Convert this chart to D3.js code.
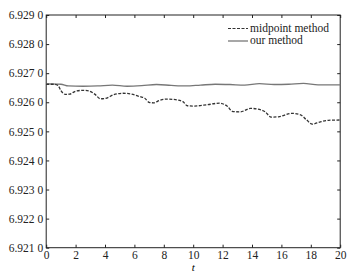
<!DOCTYPE html>
<html><head><meta charset="utf-8">
<script src="https://cdn.jsdelivr.net/npm/d3@7"></script>
<style>body{margin:0;background:#fff}svg{display:block}</style>
</head><body>
<script>
const xTicks = [0,2,4,6,8,10,12,14,16,18,20];
const yTicks = [6.921,6.922,6.923,6.924,6.925,6.926,6.927,6.928,6.929];
const seriesNames = ["midpoint method","our method"];
const midT = [0,0.5,0.8,1.0,1.3,1.6,2.0,2.5,2.9,3.3,3.7,4.0,4.6,5.2,5.8,6.4,6.7,7.0,7.3,7.7,8.2,8.8,9.3,9.6,10.0,10.9,11.8,12.3,12.7,13.2,13.9,14.6,14.9,15.3,15.8,16.7,17.3,17.7,18.1,18.6,19.2,20];
const midV = [6.92662,6.92662,6.92658,6.92640,6.92627,6.92628,6.92638,6.92641,6.92639,6.92628,6.92612,6.92613,6.92626,6.92631,6.92628,6.92619,6.92614,6.92600,6.92598,6.92606,6.92611,6.92609,6.92602,6.92588,6.92587,6.92591,6.92597,6.92587,6.92568,6.92567,6.92579,6.92574,6.92567,6.92549,6.92550,6.92562,6.92557,6.92540,6.92525,6.92532,6.92538,6.92539];
const ourT = [0,1,1.5,2.5,3.5,4.5,5.5,6.5,7.5,8.5,9.5,10.5,11.5,12.5,13.5,14.5,15.5,16.5,17.5,18.5,19.5,20];
const ourV = [6.92663,6.92662,6.92656,6.92655,6.92656,6.92659,6.92655,6.92657,6.92661,6.92658,6.92656,6.92659,6.92662,6.92661,6.92659,6.92664,6.92661,6.92662,6.92665,6.92660,6.92660,6.92660];

const W=361,H=277;
const m={l:46.2,r:20.8,t:15,b:29.3};
const svg=d3.select("body").append("svg").attr("width",W).attr("height",H);
const x=d3.scaleLinear().domain([0,20]).range([m.l,W-m.r]);
const y=d3.scaleLinear().domain([6.921,6.929]).range([H-m.b,m.t]);
const font="'Liberation Serif','Times New Roman',serif";
const fs=11.5;
const axCol="#222";
const fmtY=v=>{const s=d3.format(".4f")(v);return s.slice(0,-1)+" "+s.slice(-1);};

// frame
svg.append("rect").attr("x",x(0)).attr("y",y(6.929)).attr("width",x(20)-x(0)).attr("height",y(6.921)-y(6.929))
  .attr("fill","none").attr("stroke",axCol).attr("stroke-width",1);

function styleAxis(g){g.select(".domain").remove();g.selectAll("line").attr("stroke",axCol);g.selectAll("text").attr("font-family",font).attr("font-size",fs).attr("fill","#222");}
svg.append("g").attr("transform",`translate(0,${y(6.921)})`)
  .call(d3.axisBottom(x).tickValues(xTicks).tickSize(-3).tickPadding(3).tickFormat(d3.format("d"))).call(styleAxis);
svg.append("g").attr("transform",`translate(0,${y(6.929)})`)
  .call(d3.axisTop(x).tickValues(xTicks).tickSize(-3).tickFormat("")).call(styleAxis);
svg.append("g").attr("transform",`translate(${x(0)},0)`)
  .call(d3.axisLeft(y).tickValues(yTicks).tickSize(-3).tickPadding(3).tickFormat(fmtY)).call(styleAxis);
svg.append("g").attr("transform",`translate(${x(20)},0)`)
  .call(d3.axisRight(y).tickValues(yTicks).tickSize(-3).tickFormat("")).call(styleAxis);

svg.append("text").attr("x",x(10)).attr("y",271).attr("text-anchor","middle")
  .attr("font-family",font).attr("font-size",11).attr("font-style","italic").text("t");

const line=d3.line().x(d=>x(d[0])).y(d=>y(d[1])).curve(d3.curveMonotoneX);
svg.append("path").datum(ourT.map((t,i)=>[t,ourV[i]])).attr("d",line)
  .attr("fill","none").attr("stroke","#777").attr("stroke-width",1.3);
svg.append("path").datum(midT.map((t,i)=>[t,midV[i]])).attr("d",line)
  .attr("fill","none").attr("stroke","#333").attr("stroke-width",1.3).attr("stroke-dasharray","3,1.5");

// legend
const lg=svg.append("g");
lg.append("line").attr("x1",228).attr("x2",248).attr("y1",28.5).attr("y2",28.5).attr("stroke","#333").attr("stroke-width",1.2).attr("stroke-dasharray","3,1.5");
lg.append("line").attr("x1",228).attr("x2",248).attr("y1",41).attr("y2",41).attr("stroke","#777").attr("stroke-width",1.3);
lg.append("text").attr("x",250).attr("y",31.5).attr("font-family",font).attr("font-size",fs).attr("fill","#222").text(seriesNames[0]);
lg.append("text").attr("x",250).attr("y",43.5).attr("font-family",font).attr("font-size",fs).attr("fill","#222").text(seriesNames[1]);
</script>
</body></html>
